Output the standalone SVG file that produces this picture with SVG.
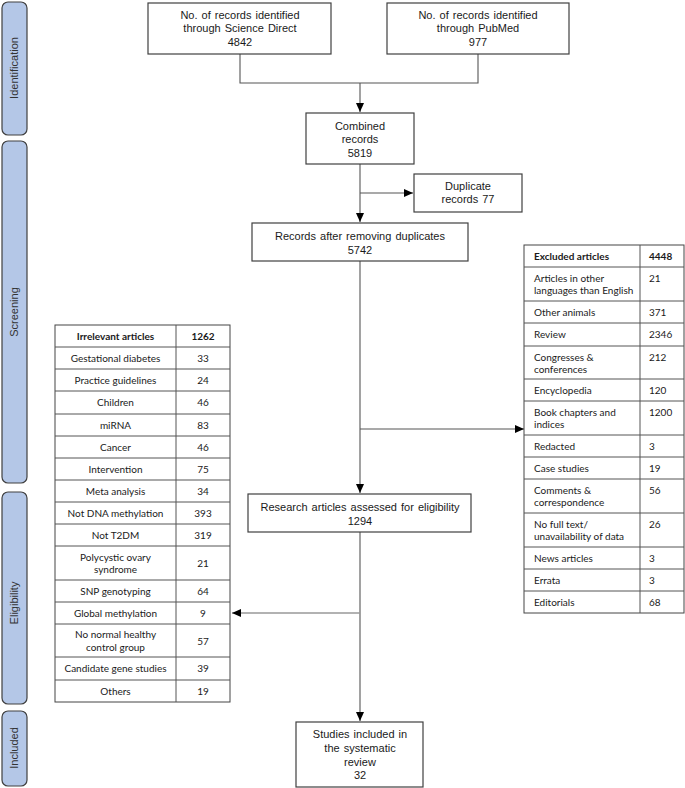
<svg xmlns="http://www.w3.org/2000/svg" width="685" height="788" viewBox="0 0 685 788">
<style>
.phase{fill:#b4c7e7;stroke:#404040;stroke-width:1.2}
.ph{font-family:"Liberation Sans",Arial,sans-serif;font-size:11px;fill:#333;text-anchor:middle}
.box{fill:#fff;stroke:#404040;stroke-width:1.2}
.bt{font-family:"Liberation Sans",Arial,sans-serif;font-size:11px;fill:#1a1a1a;text-anchor:middle;word-spacing:1px}
.tb{fill:#fff;stroke:#444;stroke-width:1}
.tl{stroke:#555;stroke-width:1}
.tt{font-family:Lato,"Open Sans",sans-serif;font-size:10px;fill:#1a1a1a}
.c{text-anchor:middle}
.b{font-weight:bold}
.conn{fill:none;stroke:#555;stroke-width:1.1}
.conn2{fill:none;stroke:#999;stroke-width:1.3}
</style>
<defs>
<marker id="ah" markerWidth="10" markerHeight="10" refX="9" refY="5" orient="auto" markerUnits="userSpaceOnUse">
<path d="M0,1 L9,5 L0,9 Z" fill="#000"/>
</marker>
</defs>

<g id="phases">
<g id="phase-identification"><rect class="phase" x="2" y="2" width="25" height="133" rx="6"/><text class="ph" transform="translate(18,68) rotate(-90)">Identification</text></g>
<g id="phase-screening"><rect class="phase" x="2" y="141" width="25" height="342" rx="6"/><text class="ph" transform="translate(18,312) rotate(-90)">Screening</text></g>
<g id="phase-eligibility"><rect class="phase" x="2" y="492" width="25" height="212" rx="6"/><text class="ph" transform="translate(18,603) rotate(-90)">Eligibility</text></g>
<g id="phase-included"><rect class="phase" x="2" y="711" width="25" height="75" rx="6"/><text class="ph" transform="translate(18,748) rotate(-90)">Included</text></g>
</g>

<g id="connectors">
<path class="conn" d="M240,54 V83 H478 V54"/>
<path class="conn" d="M360,83 V112" marker-end="url(#ah)"/>
<path class="conn" d="M360,164 V222" marker-end="url(#ah)"/>
<path class="conn" d="M360,193 H413" marker-end="url(#ah)"/>
<path class="conn" d="M360,261 V493" marker-end="url(#ah)"/>
<path class="conn" d="M360,429 H524" marker-end="url(#ah)"/>
<path class="conn" d="M360,532 V721" marker-end="url(#ah)"/>
<path class="conn2" d="M360,613 H232" marker-end="url(#ah)"/>
</g>

<g id="node-sciencedirect"><rect class="box" x="148" y="3" width="183" height="51"/>
<text class="bt" x="240" y="19">No. of records identified</text>
<text class="bt" x="240" y="32">through Science Direct</text>
<text class="bt" x="240" y="46">4842</text></g>

<g id="node-pubmed"><rect class="box" x="387" y="3" width="182" height="51"/>
<text class="bt" x="478" y="19">No. of records identified</text>
<text class="bt" x="478" y="32">through PubMed</text>
<text class="bt" x="478" y="46">977</text></g>

<g id="node-combined"><rect class="box" x="306" y="113" width="108" height="51"/>
<text class="bt" x="360" y="130">Combined</text>
<text class="bt" x="360" y="143">records</text>
<text class="bt" x="360" y="157">5819</text></g>

<g id="node-duplicates"><rect class="box" x="414" y="174" width="108" height="38"/>
<text class="bt" x="468" y="190">Duplicate</text>
<text class="bt" x="468" y="203">records 77</text></g>

<g id="node-after"><rect class="box" x="252" y="223" width="216" height="38"/>
<text class="bt" x="360" y="240">Records after removing duplicates</text>
<text class="bt" x="360" y="254">5742</text></g>

<g id="node-research"><rect class="box" x="248" y="494" width="223" height="38"/>
<text class="bt" x="360" y="511">Research articles assessed for eligibility</text>
<text class="bt" x="360" y="525">1294</text></g>

<g id="node-included"><rect class="box" x="296" y="722" width="127" height="65"/>
<text class="bt" x="360" y="738">Studies included in</text>
<text class="bt" x="360" y="752">the systematic</text>
<text class="bt" x="360" y="766">review</text>
<text class="bt" x="360" y="779">32</text></g>

<g id="table-irrelevant">
<rect class="tb" x="55" y="325" width="175" height="377"/>
<path class="tl" d="M176,325 V702 M55,347 H230 M55,369 H230 M55,391 H230 M55,414 H230 M55,436 H230 M55,458 H230 M55,480 H230 M55,502 H230 M55,524 H230 M55,546 H230 M55,580 H230 M55,602 H230 M55,624 H230 M55,657 H230 M55,680 H230"/>
<g class="tt c">
<text class="b" x="115.5" y="340">Irrelevant articles</text><text class="b" x="203" y="340">1262</text>
<text x="115.5" y="362">Gestational diabetes</text><text x="203" y="362">33</text>
<text x="115.5" y="384">Practice guidelines</text><text x="203" y="384">24</text>
<text x="115.5" y="406">Children</text><text x="203" y="406">46</text>
<text x="115.5" y="429">miRNA</text><text x="203" y="429">83</text>
<text x="115.5" y="451">Cancer</text><text x="203" y="451">46</text>
<text x="115.5" y="473">Intervention</text><text x="203" y="473">75</text>
<text x="115.5" y="495">Meta analysis</text><text x="203" y="495">34</text>
<text x="115.5" y="517">Not DNA methylation</text><text x="203" y="517">393</text>
<text x="115.5" y="539">Not T2DM</text><text x="203" y="539">319</text>
<text x="115.5" y="561">Polycystic ovary</text><text x="115.5" y="573">syndrome</text><text x="203" y="567">21</text>
<text x="115.5" y="595">SNP genotyping</text><text x="203" y="595">64</text>
<text x="115.5" y="617">Global methylation</text><text x="203" y="617">9</text>
<text x="115.5" y="638">No normal healthy</text><text x="115.5" y="651">control group</text><text x="203" y="645">57</text>
<text x="115.5" y="672">Candidate gene studies</text><text x="203" y="672">39</text>
<text x="115.5" y="695">Others</text><text x="203" y="695">19</text>
</g>
</g>

<g id="table-excluded">
<rect class="tb" x="524" y="245" width="160" height="368"/>
<path class="tl" d="M640,245 V613 M524,267 H684 M524,301 H684 M524,323 H684 M524,346 H684 M524,379 H684 M524,401 H684 M524,435 H684 M524,457 H684 M524,479 H684 M524,513 H684 M524,547 H684 M524,569 H684 M524,591 H684"/>
<g class="tt">
<text class="b" x="534" y="260">Excluded articles</text><text class="b" x="649" y="260">4448</text>
<text x="534" y="282">Articles in other</text><text x="534" y="294">languages than English</text><text x="649" y="282">21</text>
<text x="534" y="316">Other animals</text><text x="649" y="316">371</text>
<text x="534" y="338">Review</text><text x="649" y="338">2346</text>
<text x="534" y="361">Congresses &amp;</text><text x="534" y="373">conferences</text><text x="649" y="361">212</text>
<text x="534" y="394">Encyclopedia</text><text x="649" y="394">120</text>
<text x="534" y="416">Book chapters and</text><text x="534" y="428">indices</text><text x="649" y="416">1200</text>
<text x="534" y="450">Redacted</text><text x="649" y="450">3</text>
<text x="534" y="472">Case studies</text><text x="649" y="472">19</text>
<text x="534" y="494">Comments &amp;</text><text x="534" y="506">correspondence</text><text x="649" y="494">56</text>
<text x="534" y="528">No full text/</text><text x="534" y="540">unavailability of data</text><text x="649" y="528">26</text>
<text x="534" y="562">News articles</text><text x="649" y="562">3</text>
<text x="534" y="584">Errata</text><text x="649" y="584">3</text>
<text x="534" y="606">Editorials</text><text x="649" y="606">68</text>
</g>
</g>
</svg>
